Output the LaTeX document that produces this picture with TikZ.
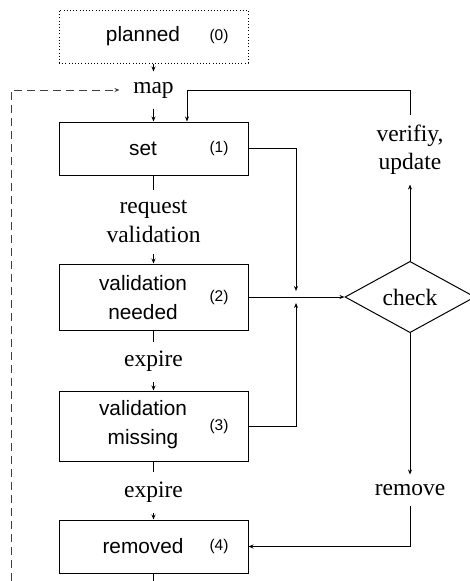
\documentclass[tikz,border=0pt]{standalone}
\usepackage{fontspec}
\setmainfont{Liberation Serif}
\newfontfamily\boxfont{Liberation Sans}
\usetikzlibrary{arrows.meta,shapes.geometric}
\begin{document}
\begin{tikzpicture}[x=1pt,y=-1pt,
  line width=1pt,
  arr/.style={-{Stealth[length=5pt,width=4pt]}},
  statebox/.style={draw, minimum width=189pt, inner sep=0pt, anchor=center},
  stext/.style={font=\boxfont\fontsize{20.8}{29}\selectfont, align=center, inner sep=0pt},
  num/.style={font=\boxfont\fontsize{15.5}{18}\selectfont, inner sep=0pt},
  lbl/.style={font=\fontsize{23.5}{28.5}\selectfont, align=center, inner sep=0pt},
  dotbox/.style={dash pattern=on 0.8pt off 2.4pt},
  dashline/.style={dash pattern=on 8pt off 5pt, draw=black!75},
]
\useasboundingbox (0,0) rectangle (469,581);

\node[statebox, dotbox, minimum height=53pt] (planned) at (153.5,36.5) {};
\node[stext] (plannedT) at (143,36.5) {planned};
\node[num] (n0) at (219,36.5) {(0)};

\node[lbl, minimum width=67pt, minimum height=36pt] (map) at (153.5,90) {map};

\node[statebox, minimum height=53pt] (set) at (153.5,148.5) {};
\node[stext] (setT) at (143,148.5) {set};
\node[num] (n1) at (219,148.5) {(1)};

\node[lbl, minimum height=63pt] (req) at (153.5,221.5) {request\\validation};

\node[statebox, minimum height=66pt] (needed) at (153.5,297) {};
\node[stext] (neededT) at (143,298) {validation\\needed};
\node[num] (n2) at (219,297) {(2)};

\node[lbl, minimum height=39pt] (exp1) at (153.5,361.5) {expire};

\node[statebox, minimum height=70pt] (missing) at (153.5,426) {};
\node[stext] (missingT) at (143,425) {validation\\missing};
\node[num] (n3) at (219,426) {(3)};

\node[lbl, minimum height=40pt] (exp2) at (153.5,492) {expire};

\node[statebox, minimum height=53pt] (removed) at (153.5,546.5) {};
\node[stext] (removedT) at (143,546.5) {removed};
\node[num] (n4) at (219,546.5) {(4)};

\node[draw, diamond, minimum width=130pt, minimum height=71pt, inner sep=0pt,
      font=\fontsize{23.5}{28.5}\selectfont] (check) at (410,297) {check};
\node[lbl, minimum height=69pt] (ver) at (410,149.5) {verifiy,\\update};
\node[lbl, minimum height=30pt] (rem) at (410,490) {remove};

\coordinate (j) at (296,297);
\coordinate (dstart) at (11,581);
\coordinate (bot) at (153.5,581);

\draw[arr] (planned.south) -- (map.north);
\draw[arr] (map.south) -- (set.north);
\draw[arr, dashline] (dstart) |- (map.west);
\draw[arr] (ver.north) -- ++(0,-24) -| ([xshift=33.5pt]set.north);
\draw[arr] (set.east) -| ([yshift=6pt]j);
\draw[arr] (missing.east) -| ([yshift=-6pt]j);
\draw[arr] (needed.east) -- (check.west);
\draw[arr] (check.north) -- (ver.south);
\draw[arr] (check.south) -- (rem.north);
\draw[arr] (rem.south) |- (removed.east);
\draw (set.south) -- (req.north);
\draw[arr] (req.south) -- (needed.north);
\draw (needed.south) -- (exp1.north);
\draw[arr] (exp1.south) -- (missing.north);
\draw (missing.south) -- (exp2.north);
\draw[arr] (exp2.south) -- (removed.north);
\draw (removed.south) -- (bot);
\end{tikzpicture}
\end{document}
